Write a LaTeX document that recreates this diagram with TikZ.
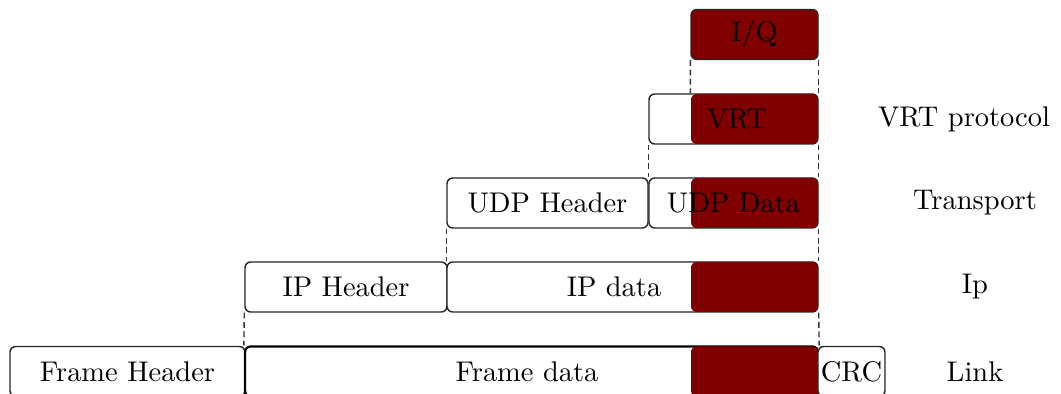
\documentclass[tikz,border=0pt]{standalone}
\usetikzlibrary{positioning}
\definecolor{maroon}{HTML}{800000}
\newcommand{\pu}{0.3515pt}
\tikzset{
  x=0.3515pt, y=-0.3515pt,
  box/.style={draw=black!85, line width=0.5pt, rounded corners=2pt, fill=white, inner sep=0pt,
     minimum height={50*\pu}},
  redbox/.style={fill=maroon, draw=none, rounded corners=2pt, inner sep=0pt, minimum height={50*\pu}},
  lbl/.style={inner sep=0pt, font=\normalsize},
  conn/.style={dash pattern=on 2pt off 1.3pt, draw=black!80, line width=0.5pt}
}
\begin{document}
\begin{tikzpicture}
\useasboundingbox (0,0) rectangle (1061,394);
% Link row
\node[box, minimum width={235*\pu}] (fh) at (127.5,371.5) {Frame Header};
\node[box, line width=0.8pt, draw=black, minimum width={573*\pu}] (fd) at (531.5,371.5) {};
\node[redbox, minimum width={127*\pu}] (fdr) at (754.5,371.5) {};
\node[lbl] (fdt) at (527,371.5) {Frame data};
\node[box, minimum width={67*\pu}] (crc) at (851.5,371.5) {CRC};
% Ip row
\node[box, minimum width={202*\pu}] (iph) at (346,287) {IP Header};
\node[box, minimum width={371*\pu}] (ipd) at (632.5,287) {};
\node[redbox, minimum width={127*\pu}] (ipdr) at (754.5,287) {};
\node[lbl] (ipdt) at (614,287) {IP data};
% Transport row
\node[box, minimum width={201*\pu}] (udph) at (547.5,203) {UDP Header};
\node[box, minimum width={169*\pu}] (udpd) at (733.5,203) {};
\node[redbox, minimum width={127*\pu}] (udpdr) at (754.5,203) {};
\node[lbl] (udpdt) at (733.5,203) {UDP Data};
% VRT row
\node[box, minimum width={169*\pu}] (vrt) at (733.5,119) {};
\node[redbox, minimum width={127*\pu}] (vrtr) at (754.5,119) {};
\node[lbl] (vrtt) at (737,119) {VRT};
% I/Q
\node[box, fill=maroon, minimum width={127*\pu}] (iq) at (754.5,34.5) {I/Q};
% right labels
\node[lbl] (lvrt) at (964,119) {VRT protocol};
\node[lbl] (ltr) at (975,203) {Transport};
\node[lbl] (lip) at (975,287) {Ip};
\node[lbl] (llink) at (975,371.5) {Link};
% dashed connectors
\draw[conn] (iq.south west) -- (vrtr.north west);
\draw[conn] (iq.south east) -- (vrt.north east);
\draw[conn] (vrt.south west) -- (udpd.north west);
\draw[conn] (vrt.south east) -- (udpd.north east);
\draw[conn] (udph.south west) -- (ipd.north west);
\draw[conn] (udpd.south east) -- (ipd.north east);
\draw[conn] (iph.south west) -- (fd.north west);
\draw[conn] (ipd.south east) -- (fd.north east);
\end{tikzpicture}
\end{document}
